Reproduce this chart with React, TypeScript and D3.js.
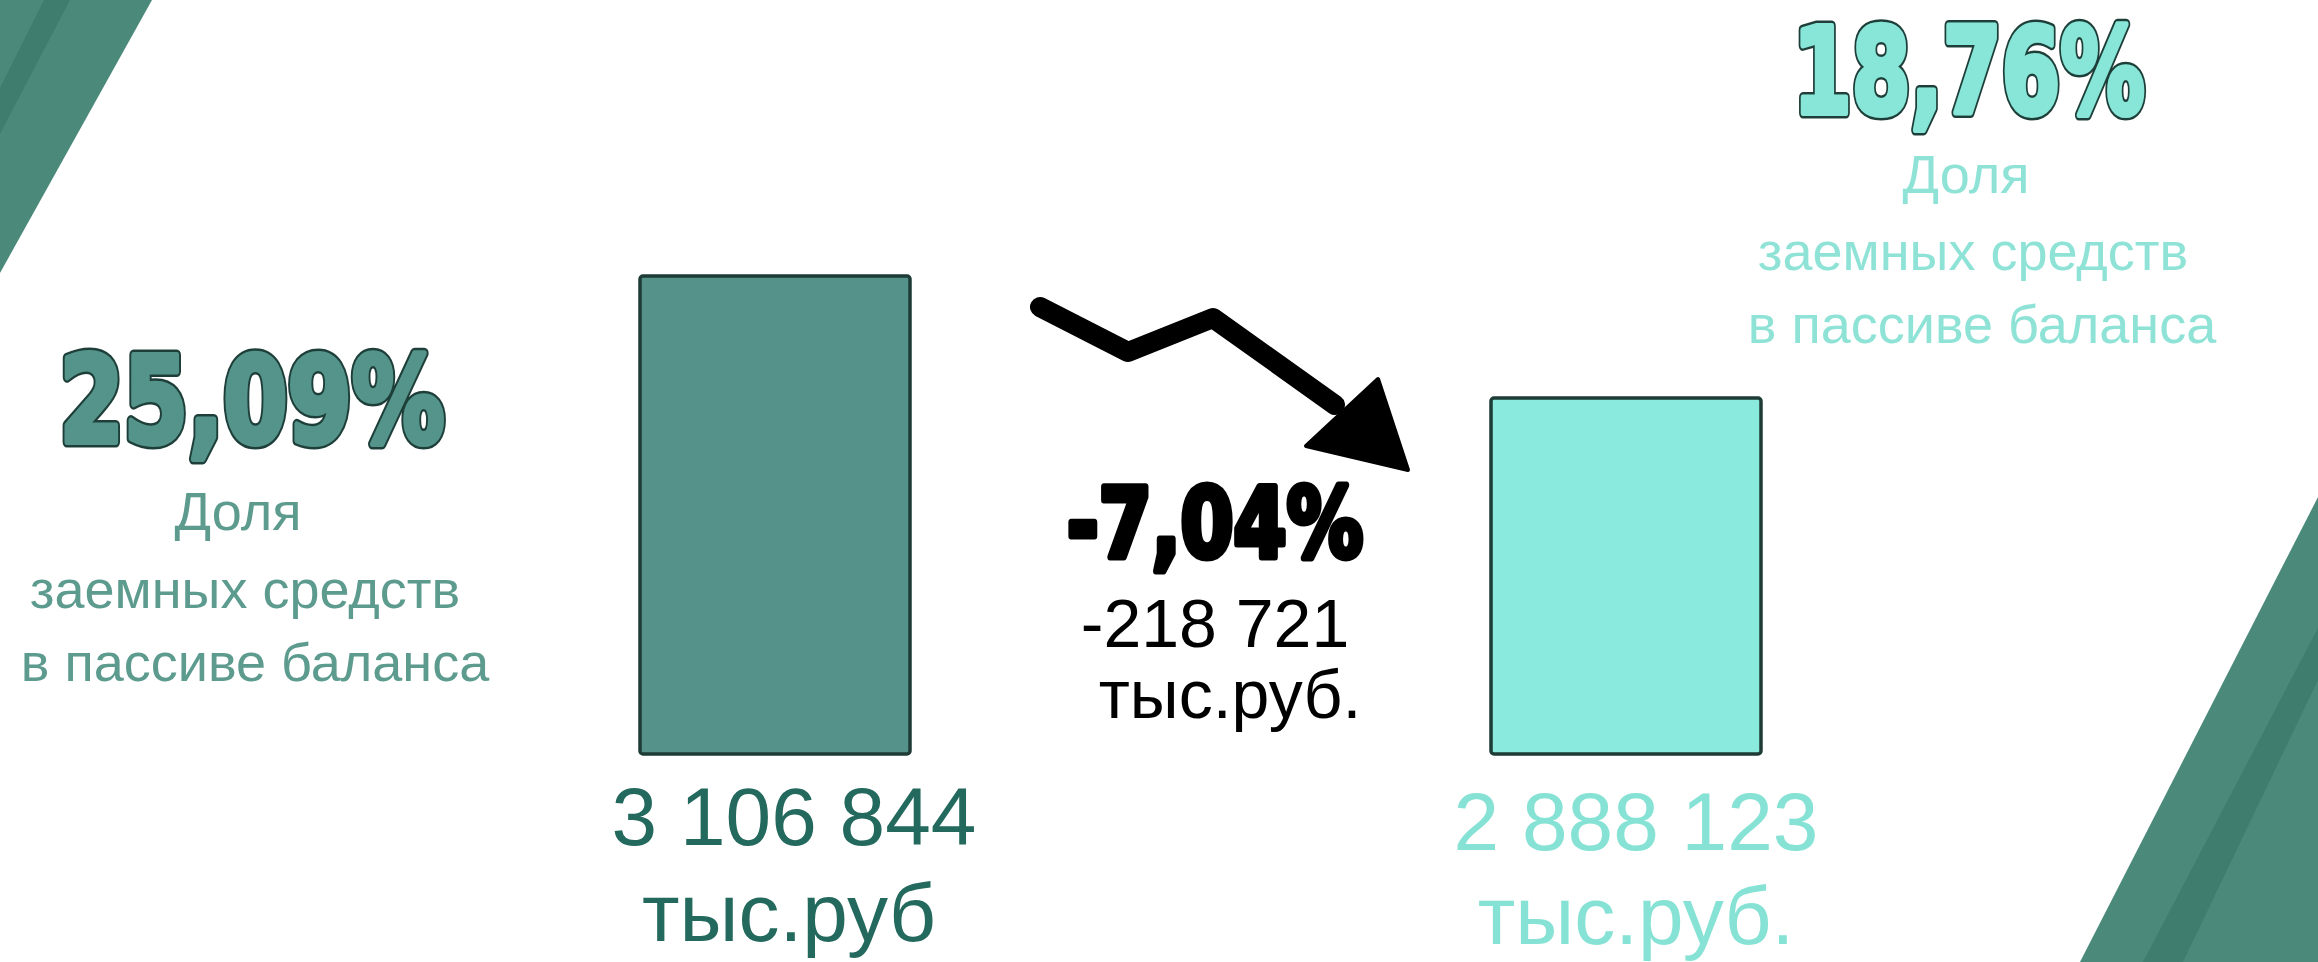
import React from "react";
import * as d3 from "d3";

// ---- data ----
const periods = ["prev", "curr"];
const totals = [3106844, 2888123];
const totalLabels = ["3 106 844", "2 888 123"];
const unitLabels = ["тыс.руб", "тыс.руб."];
const shareLabels = ["25,09%", "18,76%"];
const shareCaption = ["Доля", "заемных средств", "в пассиве баланса"];
const changePct = "-7,04%";
const changeAbs = "-218 721";
const changeUnit = "тыс.руб.";

const barFill = ["#55938a", "#8aeadd"];
const textDark = ["#23695d", "#86e2d4"];
const captionColor = ["#5c9b8e", "#8ee3d6"];
const shareFill = ["#54948a", "#88e6d8"];

const W = 2318;
const H = 962;

export default function App() {
  const x = d3.scalePoint<string>().domain(periods).range([775, 1626]);
  const y = d3.scaleLinear().domain([2250000, 3106844]).range([754, 276]);
  const barW = 270;
  const base = y(2250000);

  const arrowLine = d3.line()([
    [1040, 307],
    [1128, 352],
    [1213, 318],
    [1335, 405],
  ]) as string;

  const shareAnchors = [
    { cx: 252, top: 442, cap: [530, 608, 681], w: 385, capX: [238, 245, 255] },
    { cx: 1969, top: 113, cap: [193, 270, 343], w: 352, capX: [1966, 1973, 1982] },
  ];

  const bigText = (
    key: string,
    label: string,
    cx: number,
    by: number,
    size: number,
    w: number,
    fill: string,
    outline: string,
    outW: number,
    inW: number
  ) => (
    <g key={key} fontFamily="'DejaVu Sans', sans-serif" fontWeight="bold" textAnchor="middle">
      <text
        x={cx}
        y={by}
        fontSize={size}
        textLength={w}
        lengthAdjust="spacingAndGlyphs"
        fill={outline}
        stroke={outline}
        strokeWidth={outW}
        strokeLinejoin="round"
      >
        {label}
      </text>
      <text
        x={cx}
        y={by}
        fontSize={size}
        textLength={w}
        lengthAdjust="spacingAndGlyphs"
        fill={fill}
        stroke={fill}
        strokeWidth={inW}
        strokeLinejoin="round"
      >
        {label}
      </text>
    </g>
  );

  return (
    <svg
      width={W}
      height={H}
      style={{ position: "absolute", left: 0, top: 0, background: "#ffffff" }}
    >
      {/* decorative corners */}
      <polygon points="0,0 152,0 0,273" fill="#4b897b" />
      <polygon points="44,0 70,0 0,134 0,88" fill="#3f7e6f" />
      <polygon points={`${W},497 ${W},${H} 2080,${H}`} fill="#4b897b" />
      <polygon points={`${W},628 ${W},680 2183,${H} 2143,${H}`} fill="#3f7e6f" />

      {/* bars */}
      {periods.map((p, i) => (
        <rect
          key={p}
          x={(x(p) as number) - barW / 2}
          y={y(totals[i])}
          width={barW}
          height={base - y(totals[i])}
          rx={3}
          fill={barFill[i]}
          stroke="#1e3b36"
          strokeWidth={3.5}
        />
      ))}

      {/* bottom value labels */}
      {periods.map((p, i) => (
        <g key={p + "l"} fontFamily="'Liberation Sans', Arial, sans-serif" fill={textDark[i]} textAnchor="middle">
          <text x={(x(p) as number) + (i === 0 ? 19 : 10)} y={845 + i * 5} fontSize={82}>
            {totalLabels[i]}
          </text>
          <text x={(x(p) as number) + (i === 0 ? 14 : 10)} y={941 + i * 3} fontSize={82}>
            {unitLabels[i]}
          </text>
        </g>
      ))}

      {/* share labels */}
      {shareAnchors.map((a, i) => (
        <g key={"s" + i}>
          {bigText("b" + i, shareLabels[i], a.cx, a.top, 120, a.w, shareFill[i], "#1e3f39", 11, 6)}
          {shareCaption.map((c, j) => (
            <text
              key={j}
              x={a.capX[j]}
              y={a.cap[j]}
              textAnchor="middle"
              fontFamily="'Liberation Sans', Arial, sans-serif"
              fontSize={54}
              fill={captionColor[i]}
            >
              {c}
            </text>
          ))}
        </g>
      ))}

      {/* trend arrow */}
      <path d={arrowLine} fill="none" stroke="#000" strokeWidth={20} strokeLinecap="round" strokeLinejoin="round" />
      <polygon points="1306,446 1378,379 1408,470" fill="#000" stroke="#000" strokeWidth={4} strokeLinejoin="round" />

      {/* change labels */}
      {bigText("chg", changePct, 1215, 557, 96, 296, "#000", "#000", 7, 0)}
      <g textAnchor="middle" fill="#000">
        <text x={1215} y={647} fontFamily="'Liberation Sans', Arial, sans-serif" fontSize={68}>
          {changeAbs}
        </text>
        <text x={1230} y={718} fontFamily="'Liberation Sans', Arial, sans-serif" fontSize={68}>
          {changeUnit}
        </text>
      </g>
    </svg>
  );
}
